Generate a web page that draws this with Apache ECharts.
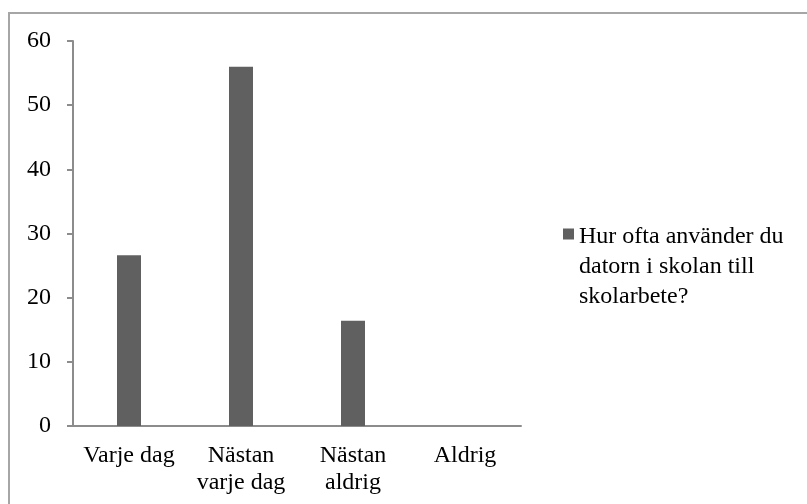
<!DOCTYPE html>
<html>
<head>
<meta charset="utf-8">
<script src="https://cdn.jsdelivr.net/npm/echarts@6/dist/echarts.min.js"></script>
<style>
  html, body { margin: 0; padding: 0; background: #fff; }
  #chart { width: 807px; height: 504px; }
</style>
</head>
<body>
<div id="chart"></div>
<script>
// data
var categories = ["Varje dag", "Nästan\nvarje dag", "Nästan\naldrig", "Aldrig"];
var values = [26.6, 56, 16.4, 0];
var seriesName = "Hur ofta använder du\ndatorn i skolan till\nskolarbete?";
var yTicks = [0, 10, 20, 30, 40, 50, 60];

var chart = echarts.init(document.getElementById("chart"));
var serif = "Liberation Serif";
var axisGrey = "#8c8c8c";

option = {
  animation: false,
  backgroundColor: "#fff",
  grid: {
    left: 73,
    top: 41,
    right: 286,
    bottom: 78,
  },
  legend: {
    data: [seriesName],
    left: 563,
    top: 222,
    padding: 0,
    orient: "vertical",
    itemWidth: 11,
    itemHeight: 88,
    itemGap: 0,
    symbolKeepAspect: true,
    // square on top, invisible point below so the icon sits at the first line
    icon: "path://M0,0h10v10h-10z M0,70 L0.01,70",
    textStyle: {
      fontFamily: serif,
      fontSize: 24,
      lineHeight: 30,
      color: "#000",
    },
  },
  xAxis: {
    type: "category",
    data: categories,
    axisLine: { lineStyle: { color: axisGrey, width: 2 } },
    axisTick: { length: 6, lineStyle: { color: axisGrey, width: 2 } },
    axisLabel: {
      fontFamily: serif,
      fontSize: 24,
      lineHeight: 27,
      color: "#000",
      margin: 16,
      interval: 0,
    },
  },
  yAxis: {
    type: "value",
    min: yTicks[0],
    max: yTicks[yTicks.length - 1],
    interval: 10,
    splitLine: { show: false },
    axisLine: { show: true, lineStyle: { color: axisGrey, width: 2 } },
    axisTick: { show: true, length: 6, lineStyle: { color: axisGrey, width: 2 } },
    axisLabel: {
      fontFamily: serif,
      fontSize: 24,
      color: "#000",
      margin: 22,
    },
  },
  series: [
    {
      name: seriesName,
      type: "bar",
      data: values,
      barWidth: 24,
      itemStyle: { color: "#606060" },
    },
  ],
  graphic: [
    {
      type: "rect",
      shape: { x: 9, y: 13, width: 900, height: 600 },
      style: { fill: null, stroke: "#a6a6a6", lineWidth: 2 },
      silent: true,
    },
  ],
};
chart.setOption(option);
</script>
</body>
</html>
